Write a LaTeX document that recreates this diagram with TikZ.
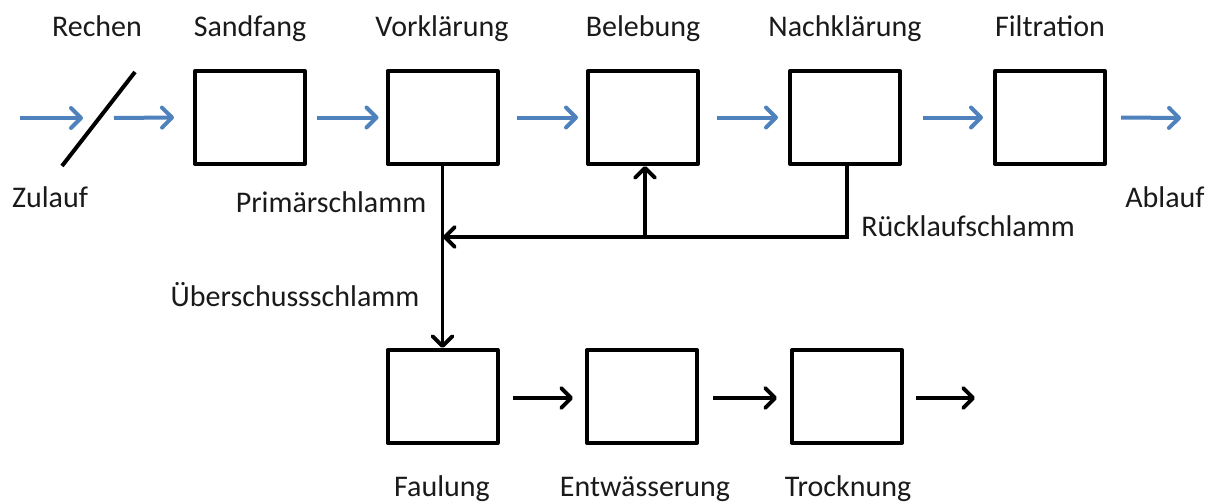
\documentclass[tikz,border=0pt]{standalone}
\usepackage{fontspec}
\setmainfont{Carlito}
\usetikzlibrary{arrows.meta}
\definecolor{flowblue}{RGB}{79,129,189}
\definecolor{txt}{RGB}{26,26,26}
\tikzset{
  unit/.style={draw=black, line width=4pt, line join=round, minimum width=110pt, minimum height=93pt, inner sep=0pt},
  lbl/.style={text=txt, anchor=base, inner sep=0pt, font=\fontsize{30}{36}\selectfont},
  bluearrow/.style={draw=flowblue, line width=4pt, -{Straight Barb[length=10pt,width=20pt,line cap=round,line join=round]}},
  blackarrow/.style={draw=black, line width=3.8pt, -{Straight Barb[length=10pt,width=20pt,line cap=round,line join=round]}},
  blackline/.style={draw=black, line width=4pt}
}
\begin{document}
\begin{tikzpicture}[x=1pt,y=-1pt]
\useasboundingbox (0,0) rectangle (1215,503);
% boxes
\node[unit] (sand) at (250,117.5) {};
\node[unit] (vor)  at (442.5,117.5) {};
\node[unit] (bel)  at (643,117.5) {};
\node[unit] (nach) at (845,117.5) {};
\node[unit] (filt) at (1050,117.5) {};
\node[unit] (faul) at (442.5,396.5) {};
\node[unit] (entw) at (642,396.5) {};
\node[unit] (trock) at (847,396.5) {};
% labels
\node[lbl] (lrech) at (97,37) {Rechen};
\node[lbl] (lsand) at (250,37) {Sandfang};
\node[lbl] (lvor)  at (442,37) {Vorklärung};
\node[lbl] (lbel)  at (643,37) {Belebung};
\node[lbl] (lnach) at (845,37) {Nachklärung};
\node[lbl] (lfilt) at (1050,37) {Filtration};
\node[lbl] (lzu)   at (50,207) {Zulauf};
\node[lbl] (lprim) at (331,212) {Primärschlamm};
\node[lbl] (lrueck) at (968,236) {Rücklaufschlamm};
\node[lbl] (lab)   at (1165,207) {Ablauf};
\node[lbl] (lueber) at (295,306) {Überschussschlamm};
\node[lbl] (lfaul) at (442,496) {Faulung};
\node[lbl] (lentw) at (645,496) {Entwässerung};
\node[lbl] (ltrock) at (848,496) {Trocknung};
% Rechen (screen)
\coordinate (r1) at (62,166);
\coordinate (r2) at (135,72);
\draw[blackline] (r1) -- (r2);
% coordinates for free ends
\coordinate (zin) at (20,118);
\coordinate (zinend) at (83,118);
\coordinate (rout) at (114,118);
\coordinate (abl) at (1181,118);
\coordinate (tout) at (975,398);
\coordinate (junc) at (443,237);
\coordinate (belj) at (645,237);
% blue flow
\draw[bluearrow] (zin) -- (zinend);
\draw[bluearrow] (rout) -- ([xshift=-19pt]sand.west);
\draw[bluearrow] ([xshift=10pt]sand.east) -- ([xshift=-7pt]vor.west);
\draw[bluearrow] ([xshift=17pt]vor.east) -- ([xshift=-8pt]bel.west);
\draw[bluearrow] ([xshift=17pt]bel.east) -- ([xshift=-10pt]nach.west);
\draw[bluearrow] ([xshift=21pt]nach.east) -- ([xshift=-10pt]filt.west);
\draw[bluearrow] ([xshift=14pt]filt.east) -- (abl);
% sludge lines
\draw[blackarrow] (vor.south) -- (faul.north);
\draw[blackarrow] ([xshift=2pt]nach.south) |- (junc);
\draw[blackarrow] (belj) -- (bel.south -| belj);
% bottom flow
\draw[blackarrow] ([xshift=13pt,yshift=-1.5pt]faul.east) -- ([xshift=-12pt,yshift=-1.5pt]entw.west);
\draw[blackarrow] ([xshift=14pt,yshift=-1.5pt]entw.east) -- ([xshift=-13pt,yshift=-1.5pt]trock.west);
\draw[blackarrow] ([xshift=12pt,yshift=-1.5pt]trock.east) -- (tout);
\end{tikzpicture}
\end{document}
